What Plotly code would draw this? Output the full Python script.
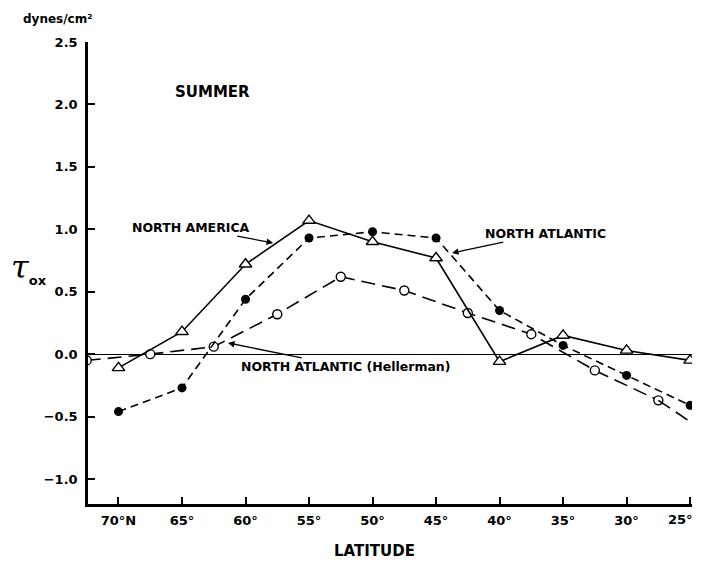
import plotly.graph_objects as go

lat_main = [70, 65, 60, 55, 50, 45, 40, 35, 30, 25]
north_america = [-0.11, 0.18, 0.72, 1.07, 0.90, 0.77, -0.06, 0.15, 0.03, -0.05]
north_atlantic = [-0.46, -0.27, 0.44, 0.93, 0.98, 0.93, 0.35, 0.07, -0.17, -0.41]
lat_hell = [72.5, 67.5, 62.5, 57.5, 52.5, 47.5, 42.5, 37.5, 32.5, 27.5]
hellerman = [-0.05, 0.0, 0.06, 0.32, 0.62, 0.51, 0.33, 0.16, -0.13, -0.37]
lat_hell_end = [27.5, 25]
hellerman_end = [-0.37, -0.54]

xticks = [70, 65, 60, 55, 50, 45, 40, 35, 30, 25]
xticklabels = ["70°N", "65°", "60°", "55°", "50°", "45°", "40°", "35°", "30°", "25°"]
yticks = [-1.0, -0.5, 0.0, 0.5, 1.0, 1.5, 2.0, 2.5]
yticklabels = ["−1.0", "−0.5", "0.0", "0.5", "1.0", "1.5", "2.0", "2.5"]

FONT = "DejaVu Sans"
fig = go.Figure()

fig.add_trace(go.Scatter(
    x=lat_hell, y=hellerman, mode="lines+markers",
    line=dict(color="black", width=1.6, dash="14px,7px"),
    marker=dict(symbol="circle", size=9, color="white", line=dict(color="black", width=1.4)),
    showlegend=False))
fig.add_trace(go.Scatter(
    x=lat_hell_end, y=hellerman_end, mode="lines",
    line=dict(color="black", width=1.6, dash="14px,7px"),
    showlegend=False))
fig.add_trace(go.Scatter(
    x=lat_main, y=north_atlantic, mode="lines+markers",
    line=dict(color="black", width=1.6, dash="8px,5px"),
    marker=dict(symbol="circle", size=9, color="black"),
    showlegend=False))
fig.add_trace(go.Scatter(
    x=lat_main, y=north_america, mode="lines+markers",
    line=dict(color="black", width=1.6),
    marker=dict(symbol="triangle-up", size=11, color="white", line=dict(color="black", width=1.4)),
    showlegend=False))

tick_font = dict(family=FONT, size=13, color="black", weight="bold")
fig.update_xaxes(
    range=[72.4, 24.85], tickvals=xticks, ticktext=xticklabels[:-1] + [""],
    ticks="inside", ticklen=7, tickwidth=2, tickcolor="black", ticklabelstandoff=3,
    showline=True, linecolor="black", linewidth=2.5, showgrid=False, zeroline=False,
    tickfont=tick_font)
fig.update_yaxes(
    range=[-1.2, 2.5], tickvals=yticks, ticktext=yticklabels,
    ticks="inside", ticklen=7, tickwidth=2, tickcolor="black", ticklabelstandoff=5,
    showline=True, linecolor="black", linewidth=2.5, showgrid=False,
    zeroline=True, zerolinecolor="black", zerolinewidth=1,
    tickfont=tick_font)

# last x tick label, placed so it stays inside the page
fig.add_annotation(text=xticklabels[-1], x=1.005, y=-0.034, xref="paper", yref="paper",
                   xanchor="right", yanchor="middle", showarrow=False, font=tick_font)

def ann(text, x, y, size=12, **kw):
    d = dict(text=text, x=x, y=y, showarrow=False,
             font=dict(family=FONT, size=size, color="black", weight="bold"))
    d.update(kw)
    fig.add_annotation(**d)

ann("SUMMER", 62.56, 2.1, size=15, xanchor="center", yanchor="middle")
ann("dynes/cm²", -0.05, 1.05, size=12, xref="paper", yref="paper", xanchor="center", yanchor="middle")
ann("τ<sub><span style='font-family:DejaVu Sans;font-style:normal;font-weight:bold;font-size:13px'>ox</span></sub>",
    -0.097, 0.69, xref="paper", yanchor="middle", xanchor="center",
    font=dict(family="DejaVu Serif", size=32, color="black", style="italic"))
ann("LATITUDE", 0.475, -0.1017, size=15, xref="paper", yref="paper", xanchor="center", yanchor="middle")

arrow = dict(showarrow=True, arrowhead=2, arrowsize=1, arrowwidth=1.3, arrowcolor="black")
lab_font = dict(family=FONT, size=12.5, color="black", weight="bold")
fig.add_annotation(text="NORTH AMERICA", x=57.83, y=0.89, ax=-82, ay=-16, font=lab_font, **arrow)
fig.add_annotation(text="NORTH ATLANTIC", x=43.74, y=0.81, ax=93, ay=-20, font=lab_font, **arrow)
fig.add_annotation(text="NORTH ATLANTIC (Hellerman)", x=61.38, y=0.09, ax=118, ay=24, font=lab_font, **arrow)

fig.update_layout(
    width=687, height=551,
    margin=dict(l=80, r=3, t=34, b=55),
    plot_bgcolor="white", paper_bgcolor="white",
    font=dict(family=FONT, color="black"))

fig.write_html("out.html")
